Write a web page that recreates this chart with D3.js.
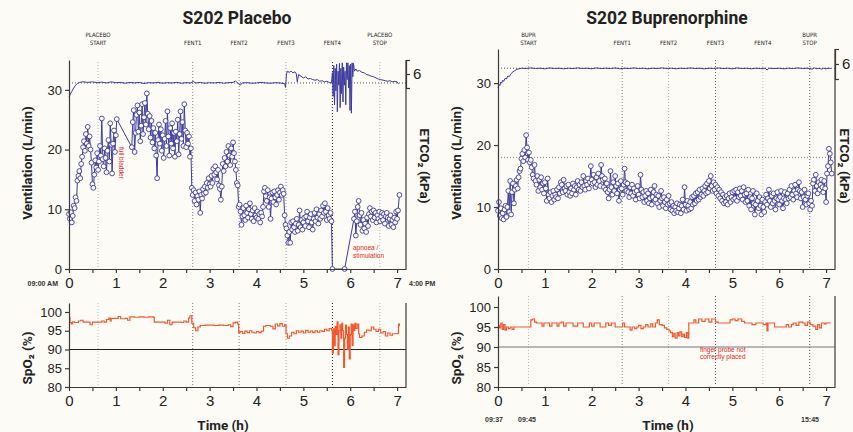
<!DOCTYPE html>
<html>
<head>
<meta charset="utf-8">
<script src="https://cdn.jsdelivr.net/npm/d3@7"></script>
<style>
body { margin: 0; background: #fcfbf5; }
svg { font-family: "Liberation Sans Narrow", Roboto, "Noto Sans", sans-serif; }
.axis path, .axis line { stroke: #3a3a3a; stroke-width: 1.2; }
.axis text { fill: #222; }
.title { font-family: Roboto, sans-serif; font-weight: bold; font-size: 17.5px; fill: #222; }
.lab { font-family: Roboto, sans-serif; font-weight: bold; font-size: 13.5px; fill: #222; }
.ev { font-family: "DejaVu Sans Condensed", "Liberation Sans Narrow", sans-serif; font-size: 6px; fill: #222; }
.note { font-family: "Liberation Sans Narrow", sans-serif; font-size: 6.5px; fill: #e0281e; }
.clock { font-family: "Liberation Sans Narrow", sans-serif; font-weight: bold; font-size: 7px; fill: #333; }
</style>
</head>
<body>
<script>
// ---- data (hours since start) ----
var hourTicks = [0, 1, 2, 3, 4, 5, 6, 7];
var ventTicks = [0, 10, 20, 30];
var spo2Ticks = [80, 85, 90, 95, 100];
var etco2Ticks = [5.5, 6, 6.5];

// placebo session
var eventsP = [0.62, 2.64, 3.63, 4.63, 5.62, 6.63];
var eventNamesP = [["PLACEBO", "START"], ["FENT1"], ["FENT2"], ["FENT3"], ["FENT4"], ["PLACEBO", "STOP"]];

var ventP = [
[0.00,9.2],[0.02,8.4],[0.04,9.5],[0.06,7.8],[0.08,8.9],[0.10,10.6],[0.12,10.2],[0.14,12.0],[0.16,11.4],[0.18,14.8],[0.20,15.6],[0.22,16.4],[0.24,15.2],[0.26,17.6],[0.28,18.8],[0.30,20.4],[0.32,21.4],[0.34,19.8],[0.36,22.6],[0.38,21.0],[0.40,23.8],[0.42,20.6],[0.44,22.2],[0.46,20.0],[0.48,17.8],[0.50,14.2],[0.52,13.6],[0.54,15.8],[0.56,18.2],[0.58,17.0],[0.60,19.4],[0.62,16.6],[0.64,18.0],[0.66,20.6],[0.68,19.0],[0.70,25.2],[0.72,18.4],[0.74,17.2],[0.76,20.2],[0.78,18.6],[0.80,16.2],[0.82,19.8],[0.84,21.6],[0.86,18.0],[0.88,24.4],[0.90,20.8],[0.92,16.0],[0.94,21.0],[0.96,23.2],[0.98,19.6],[1.00,22.4],[1.02,25.1],
[1.34,20.4],[1.36,24.6],[1.38,26.6],[1.40,19.6],[1.42,22.8],[1.44,25.8],[1.46,27.4],[1.48,23.0],[1.50,26.2],[1.52,21.4],[1.54,24.0],[1.56,27.6],[1.58,22.6],[1.60,25.4],[1.62,27.8],[1.64,24.2],[1.66,29.4],[1.68,26.0],[1.70,23.4],[1.72,25.6],[1.74,22.0],[1.76,24.8],[1.78,21.2],[1.80,23.6],[1.82,20.2],[1.84,22.8],[1.86,19.0],[1.88,15.2],[1.90,21.6],[1.92,24.2],[1.94,21.0],[1.96,23.4],[1.98,19.8],[2.00,22.4],[2.02,18.6],[2.04,21.8],[2.06,24.8],[2.08,20.6],[2.10,26.4],[2.12,22.2],[2.14,19.0],[2.16,23.6],[2.18,21.0],[2.20,24.4],[2.22,20.2],[2.24,22.8],[2.26,18.8],[2.28,23.0],[2.30,21.4],[2.32,25.0],[2.34,19.2],[2.36,22.6],[2.38,26.4],[2.40,21.8],[2.42,24.6],[2.44,20.6],[2.46,27.6],[2.48,23.2],[2.50,20.4],[2.52,22.8],[2.54,21.0],[2.56,22.2],[2.58,18.8],[2.60,20.2],
[2.62,13.6],[2.64,12.4],[2.66,13.2],[2.68,11.4],[2.70,12.8],[2.72,10.8],[2.74,12.2],[2.76,11.6],[2.78,13.0],[2.80,9.4],[2.82,12.4],[2.84,11.8],[2.86,13.4],[2.88,12.6],[2.90,13.8],[2.92,12.8],[2.94,14.4],[2.96,13.6],[2.98,15.2],[3.00,14.2],[3.02,13.8],[3.04,15.6],[3.06,14.4],[3.08,16.8],[3.10,15.8],[3.12,17.2],[3.14,16.2],[3.16,15.0],[3.18,16.6],[3.20,14.0],[3.22,13.4],[3.24,11.6],[3.26,13.8],[3.28,17.6],[3.30,16.4],[3.32,18.6],[3.34,17.2],[3.36,19.6],[3.38,18.0],[3.40,20.6],[3.42,19.0],[3.44,17.4],[3.46,20.2],[3.48,18.8],[3.50,21.2],[3.52,19.4],[3.54,18.0],[3.56,16.6],[3.58,14.4],[3.60,14.0],
[3.62,10.4],[3.64,10.8],[3.66,9.6],[3.68,7.4],[3.70,8.8],[3.72,10.2],[3.74,9.0],[3.76,8.2],[3.78,10.6],[3.80,9.4],[3.82,8.6],[3.84,10.0],[3.86,11.0],[3.88,9.2],[3.90,8.4],[3.92,9.8],[3.94,8.0],[3.96,10.2],[3.98,9.0],[4.00,8.6],[4.02,9.6],[4.04,8.4],[4.06,9.2],[4.08,7.8],[4.10,9.4],[4.12,8.8],[4.14,10.4],
[4.16,13.0],[4.18,13.6],[4.20,12.2],[4.22,11.4],[4.24,13.2],[4.26,10.4],[4.28,12.0],[4.30,8.4],[4.32,11.8],[4.34,12.8],[4.36,11.2],[4.38,13.0],[4.40,12.0],[4.42,10.8],[4.44,12.4],[4.46,13.2],[4.48,11.6],[4.50,12.8],[4.52,13.8],[4.54,12.4],[4.56,13.2],[4.58,12.6],[4.60,9.0],
[4.62,7.4],[4.64,6.8],[4.66,5.6],[4.68,4.4],[4.70,6.2],[4.72,4.4],[4.74,7.8],[4.76,6.6],[4.78,8.0],[4.80,7.0],[4.82,6.2],[4.84,7.6],[4.86,8.4],[4.88,6.4],[4.90,7.4],[4.92,9.8],[4.94,7.0],[4.96,8.2],[4.98,6.6],[5.00,7.8],[5.02,8.6],[5.04,7.2],[5.06,8.8],[5.08,9.6],[5.10,8.0],[5.12,7.0],[5.14,8.6],[5.16,9.2],[5.18,7.8],[5.20,6.6],[5.22,8.4],[5.24,9.4],[5.26,8.0],[5.28,10.0],[5.30,8.6],[5.32,7.6],[5.34,9.2],[5.36,8.4],[5.38,9.8],[5.40,8.8],[5.42,10.6],[5.44,9.4],[5.46,11.0],[5.48,9.6],[5.50,8.2],[5.52,10.2],[5.54,9.0],[5.56,8.4],[5.58,9.4],[5.60,8.0],
[5.62,0],[5.88,0],
[6.08,8.4],[6.10,9.6],[6.12,5.6],[6.14,8.0],[6.16,10.4],[6.18,11.4],[6.20,9.0],[6.22,7.4],[6.24,9.4],[6.26,6.4],[6.28,8.2],[6.30,6.8],[6.32,7.6],[6.34,6.2],[6.36,8.6],[6.38,7.2],[6.40,9.2],[6.42,10.2],[6.44,8.8],[6.46,9.6],[6.48,8.2],[6.50,9.8],[6.52,8.6],[6.54,9.4],[6.56,7.8],[6.58,9.0],[6.60,8.4],[6.62,9.6],[6.64,8.0],[6.66,8.8],[6.68,9.4],[6.70,8.2],[6.72,9.2],[6.74,7.6],[6.76,8.8],[6.78,9.4],[6.80,8.6],[6.82,7.2],[6.84,8.4],[6.86,9.0],[6.88,7.4],[6.90,8.2],[6.92,7.0],[6.94,8.6],[6.96,7.8],[6.98,9.6],[7.00,8.4],[7.02,9.8],[7.05,12.4]
];

var etco2P = [
[0,5.18],[0.03,5.28],[0.06,5.38],[0.10,5.5],[0.14,5.6],[0.18,5.66],[0.22,5.7],[0.30,5.72],[0.40,5.7],[0.50,5.72],[0.60,5.69],[0.70,5.71],[0.80,5.68],[0.90,5.72],[1.00,5.69],[1.10,5.7],[1.20,5.67],[1.30,5.7],[1.40,5.68],[1.50,5.7],[1.60,5.66],[1.70,5.69],[1.80,5.68],[1.90,5.7],[2.00,5.67],[2.10,5.69],[2.20,5.68],[2.30,5.7],[2.40,5.67],[2.50,5.69],[2.60,5.68],[2.65,5.74],[2.70,5.68],[2.80,5.7],[2.90,5.67],[3.00,5.69],[3.10,5.68],[3.20,5.7],[3.30,5.67],[3.40,5.69],[3.50,5.7],[3.55,5.75],[3.60,5.68],[3.65,5.6],[3.70,5.68],[3.80,5.69],[3.90,5.67],[4.00,5.68],[4.10,5.7],[4.20,5.68],[4.30,5.67],[4.40,5.69],[4.50,5.68],[4.60,5.66],[4.62,5.52],[4.64,6.0],[4.66,6.1],[4.70,6.06],[4.74,6.1],[4.78,6.04],[4.82,6.08],[4.85,6.0],[4.87,5.72],[4.90,5.98],[4.95,5.92],[5.00,5.86],[5.05,5.9],[5.10,5.82],[5.15,5.84],[5.20,5.8],[5.25,5.78],[5.30,5.8],[5.35,5.74],[5.40,5.76],[5.45,5.72],[5.50,5.74],[5.55,5.7],[5.60,5.68],
[5.62,6.05],[5.635,5.2],[5.65,6.3],[5.665,4.9],[5.68,6.2],[5.695,5.4],[5.71,6.35],[5.725,4.65],[5.74,6.1],[5.755,5.6],[5.77,6.38],[5.785,4.8],[5.80,6.2],[5.815,5.3],[5.83,6.4],[5.845,5.0],[5.86,6.25],[5.875,5.6],[5.89,6.1],[5.905,4.9],[5.92,6.4],[5.935,5.8],[5.95,6.4],[5.965,5.5],[5.98,6.3],[5.995,4.7],[6.01,6.35],[6.025,4.6],[6.04,6.4],[6.055,5.9],[6.07,6.38],[6.09,6.1],[6.12,6.18],[6.15,6.1],[6.20,6.12],[6.25,6.06],[6.30,6.04],[6.35,5.98],[6.40,5.96],[6.45,5.92],[6.50,5.9],[6.55,5.86],[6.60,5.82],[6.65,5.8],[6.70,5.78],[6.75,5.76],[6.80,5.74],[6.85,5.76],[6.90,5.72],[6.95,5.74],[7.00,5.72],[7.03,5.64]
];

var spo2P = [
[0,98.6],[0.02,97.2],[0.05,96.8],[0.08,97.4],[0.12,97.2],[0.20,97.6],[0.25,97.8],[0.30,97.3],[0.40,97.3],[0.45,96.6],[0.50,97.3],[0.60,97.3],[0.70,97.6],[0.75,97.3],[0.80,98.0],[0.85,98.4],[0.88,97.6],[0.90,98.3],[1.00,98.3],[1.05,98.8],[1.10,98.2],[1.20,98.3],[1.25,97.8],[1.30,98.7],[1.40,98.6],[1.50,98.7],[1.60,98.6],[1.70,98.7],[1.80,98.6],[1.82,97.3],[1.90,97.3],[2.00,97.3],[2.05,97.0],[2.10,97.8],[2.15,96.6],[2.20,97.3],[2.30,97.3],[2.40,97.2],[2.45,97.6],[2.50,97.3],[2.55,98.4],[2.58,99.0],[2.62,97.0],[2.66,95.8],[2.70,95.0],[2.75,96.0],[2.80,96.4],[2.90,96.5],[3.00,96.5],[3.10,96.4],[3.20,96.5],[3.30,96.4],[3.40,96.6],[3.45,96.1],[3.50,97.1],[3.55,97.3],[3.60,96.8],[3.62,94.5],[3.65,94.8],[3.70,94.3],[3.75,94.9],[3.80,94.5],[3.85,95.0],[3.90,94.6],[3.95,94.4],[4.00,94.8],[4.05,94.5],[4.10,94.9],[4.15,96.2],[4.20,96.4],[4.30,96.2],[4.35,95.5],[4.40,96.8],[4.45,96.3],[4.50,96.9],[4.55,96.2],[4.60,96.6],[4.63,94.2],[4.66,93.0],[4.70,93.6],[4.75,94.6],[4.80,94.2],[4.85,95.0],[4.90,94.6],[4.95,94.9],[5.00,94.4],[5.05,95.1],[5.10,94.6],[5.15,94.9],[5.20,94.5],[5.25,95.0],[5.30,94.6],[5.35,95.0],[5.40,94.8],[5.45,95.4],[5.50,95.0],[5.55,95.6],[5.60,95.2],
[5.62,89.0],[5.64,95.5],[5.66,91.0],[5.68,96.2],[5.70,94.0],[5.72,97.4],[5.74,88.6],[5.76,95.0],[5.78,96.6],[5.80,93.0],[5.82,97.0],[5.84,95.0],[5.86,85.2],[5.88,93.0],[5.90,96.5],[5.92,94.0],[5.94,90.0],[5.96,96.0],[5.98,87.5],[6.00,94.0],[6.02,96.8],[6.04,91.0],[6.06,96.6],[6.08,95.0],[6.10,97.0],[6.12,95.6],[6.15,96.8],[6.18,94.2],[6.20,93.2],[6.25,93.6],[6.30,94.6],[6.35,95.2],[6.40,95.0],[6.45,96.0],[6.50,95.4],[6.55,94.8],[6.60,95.4],[6.65,94.4],[6.70,94.8],[6.75,93.6],[6.80,94.4],[6.85,93.8],[6.90,94.2],[6.95,94.2],[7.00,94.2],[7.03,96.8],[7.05,96.2]
];

// buprenorphine session
var eventsB = [0.65, 2.65, 3.64, 4.64, 5.65, 6.65];
var eventNamesB = [["BUPR", "START"], ["FENT1"], ["FENT2"], ["FENT3"], ["FENT4"], ["BUPR", "STOP"]];

var ventB = [
[0.00,9.4],[0.02,10.8],[0.04,8.6],[0.06,9.8],[0.08,8.2],[0.10,9.0],[0.12,8.0],[0.14,9.6],[0.16,10.2],[0.18,8.4],[0.20,10.0],[0.22,12.6],[0.24,9.2],[0.26,14.2],[0.28,8.8],[0.30,12.4],[0.32,13.8],[0.34,10.6],[0.36,12.8],[0.38,13.4],[0.40,14.4],[0.42,13.0],[0.44,14.8],[0.46,15.8],[0.48,16.2],[0.50,17.8],[0.52,18.6],[0.54,17.4],[0.56,19.2],[0.58,18.0],[0.60,21.6],[0.62,19.6],[0.64,17.6],[0.66,18.8],[0.68,17.2],[0.70,17.6],[0.72,16.4],[0.74,15.2],[0.76,14.6],[0.78,16.8],[0.80,14.2],[0.82,13.6],[0.84,15.0],[0.86,12.6],[0.88,14.4],[0.90,13.2],[0.92,14.8],[0.94,12.8],[0.96,13.8],[0.98,12.2],[1.00,14.0],[1.02,13.0],[1.04,11.0],[1.06,14.6],[1.08,12.0],[1.10,11.4],[1.12,12.4],[1.14,10.8],[1.16,11.8],[1.18,12.6],[1.20,11.2],[1.22,12.0],[1.24,11.6],[1.26,12.8],[1.28,11.4],[1.30,13.2],[1.32,12.2],[1.34,14.0],[1.36,13.6],[1.38,12.4],[1.40,14.4],[1.42,13.0],[1.44,12.6],[1.46,13.4],[1.48,12.0],[1.50,13.6],[1.52,12.4],[1.54,11.8],[1.56,13.0],[1.58,12.2],[1.60,13.8],[1.62,12.8],[1.64,13.4],[1.66,12.0],[1.68,13.2],[1.70,14.2],[1.72,12.8],[1.74,13.6],[1.76,12.6],[1.78,14.0],[1.80,13.2],[1.82,15.0],[1.84,13.4],[1.86,12.8],[1.88,14.2],[1.90,13.6],[1.92,14.6],[1.94,13.0],[1.96,14.0],[1.98,16.6],[2.00,14.4],[2.02,13.8],[2.04,15.2],[2.06,14.0],[2.08,13.2],[2.10,14.8],[2.12,13.6],[2.14,15.4],[2.16,14.2],[2.18,13.4],[2.20,16.8],[2.22,15.0],[2.24,14.4],[2.26,13.2],[2.28,14.6],[2.30,12.8],[2.32,13.8],[2.34,12.4],[2.36,11.4],[2.38,12.8],[2.40,15.8],[2.42,13.2],[2.44,12.0],[2.46,14.0],[2.48,12.6],[2.50,15.0],[2.52,13.4],[2.54,12.2],[2.56,13.8],[2.58,11.0],[2.60,12.8],[2.62,14.2],[2.64,13.0],[2.66,12.0],[2.68,13.6],[2.70,16.2],[2.72,14.0],[2.74,12.6],[2.76,13.8],[2.78,12.4],[2.80,11.6],[2.82,13.2],[2.84,12.2],[2.86,13.6],[2.88,11.8],[2.90,13.0],[2.92,12.4],[2.94,11.2],[2.96,12.6],[2.98,13.4],[3.00,12.0],[3.02,11.4],[3.04,15.2],[3.06,12.8],[3.08,11.6],[3.10,12.4],[3.12,10.8],[3.14,11.8],[3.16,12.6],[3.18,11.0],[3.20,12.2],[3.22,10.6],[3.24,11.4],[3.26,12.8],[3.28,10.4],[3.30,11.6],[3.32,12.4],[3.34,13.4],[3.36,11.2],[3.38,12.0],[3.40,10.6],[3.42,11.8],[3.44,10.0],[3.46,11.0],[3.48,12.6],[3.50,11.4],[3.52,10.2],[3.54,11.6],[3.56,10.8],[3.58,9.8],[3.60,11.2],[3.62,10.4],[3.64,11.8],[3.66,10.6],[3.68,9.6],[3.70,10.8],[3.72,9.4],[3.74,10.2],[3.76,9.0],[3.78,10.0],[3.80,9.4],[3.82,10.6],[3.84,9.2],[3.86,9.8],[3.88,10.4],[3.90,9.0],[3.92,10.2],[3.94,11.2],[3.96,9.6],[3.98,13.2],[4.00,10.4],[4.02,9.4],[4.04,11.0],[4.06,10.2],[4.08,9.6],[4.10,10.8],[4.12,9.8],[4.14,11.6],[4.16,10.4],[4.18,11.8],[4.20,10.6],[4.22,12.2],[4.24,11.0],[4.26,12.4],[4.28,11.2],[4.30,12.8],[4.32,11.6],[4.34,12.0],[4.36,13.0],[4.38,11.8],[4.40,12.6],[4.42,13.4],[4.44,12.2],[4.46,13.8],[4.48,12.4],[4.50,14.2],[4.52,13.0],[4.54,15.0],[4.56,13.4],[4.58,12.6],[4.60,14.0],[4.62,12.8],[4.64,13.6],[4.66,12.2],[4.68,13.2],[4.70,11.8],[4.72,12.8],[4.74,11.4],[4.76,12.4],[4.78,11.0],[4.80,12.0],[4.82,10.6],[4.84,11.6],[4.86,10.8],[4.88,11.8],[4.90,10.4],[4.92,11.4],[4.94,12.2],[4.96,10.8],[4.98,11.6],[5.00,12.4],[5.02,11.2],[5.04,12.6],[5.06,11.4],[5.08,12.8],[5.10,11.0],[5.12,12.4],[5.14,11.6],[5.16,13.0],[5.18,11.8],[5.20,12.6],[5.22,11.2],[5.24,13.2],[5.26,12.0],[5.28,10.8],[5.30,12.2],[5.32,11.0],[5.34,12.8],[5.36,10.2],[5.38,11.6],[5.40,9.6],[5.42,11.4],[5.44,12.6],[5.46,10.6],[5.48,8.8],[5.50,10.4],[5.52,12.2],[5.54,11.0],[5.56,9.8],[5.58,11.6],[5.60,10.2],[5.62,8.8],[5.64,11.2],[5.66,10.0],[5.68,9.2],[5.70,10.8],[5.72,12.0],[5.74,10.4],[5.76,11.4],[5.78,12.8],[5.80,11.0],[5.82,10.0],[5.84,11.8],[5.86,10.6],[5.88,12.2],[5.90,11.0],[5.92,9.6],[5.94,11.4],[5.96,12.4],[5.98,11.2],[6.00,10.4],[6.02,11.6],[6.04,12.6],[6.06,11.0],[6.08,9.8],[6.10,11.4],[6.12,12.4],[6.14,11.2],[6.16,10.6],[6.18,12.2],[6.20,11.4],[6.22,12.8],[6.24,11.6],[6.26,13.4],[6.28,12.0],[6.30,11.2],[6.32,12.6],[6.34,13.6],[6.36,12.2],[6.38,11.6],[6.40,12.8],[6.42,14.0],[6.44,12.6],[6.46,11.4],[6.48,12.4],[6.50,10.0],[6.52,11.6],[6.54,12.8],[6.56,11.2],[6.58,10.4],[6.60,11.8],[6.62,12.2],[6.64,10.6],[6.66,9.6],[6.68,11.0],[6.70,10.2],[6.72,13.8],[6.74,14.4],[6.76,12.6],[6.78,15.2],[6.80,13.4],[6.82,12.2],[6.84,14.0],[6.86,12.8],[6.88,13.6],[6.90,14.4],[6.92,13.2],[6.94,12.4],[6.96,14.2],[6.98,13.0],[7.00,10.8],[7.02,15.4],[7.04,16.6],[7.06,19.4],[7.08,18.6],[7.10,17.2],[7.12,15.4]
];

var etco2B = [
[0,5.2],[0.02,5.32],[0.04,5.28],[0.06,5.4],[0.08,5.36],[0.10,5.46],[0.12,5.42],[0.15,5.52],[0.18,5.5],[0.21,5.6],[0.24,5.58],[0.28,5.68],[0.32,5.74],[0.36,5.78],[0.40,5.82],[0.45,5.84],[0.50,5.86],[0.60,5.85],[0.70,5.87],[0.80,5.85],[0.90,5.86],[1.00,5.84],[1.10,5.87],[1.20,5.85],[1.30,5.86],[1.40,5.84],[1.50,5.86],[1.60,5.85],[1.70,5.87],[1.80,5.85],[1.90,5.86],[2.00,5.84],[2.10,5.87],[2.20,5.85],[2.30,5.86],[2.40,5.85],[2.50,5.87],[2.60,5.84],[2.70,5.86],[2.80,5.85],[2.90,5.87],[3.00,5.85],[3.10,5.86],[3.20,5.84],[3.30,5.86],[3.40,5.85],[3.50,5.87],[3.60,5.85],[3.70,5.86],[3.80,5.84],[3.90,5.86],[4.00,5.85],[4.10,5.87],[4.20,5.85],[4.30,5.86],[4.40,5.84],[4.50,5.86],[4.60,5.85],[4.70,5.87],[4.80,5.85],[4.90,5.86],[5.00,5.84],[5.10,5.87],[5.20,5.85],[5.30,5.86],[5.40,5.84],[5.50,5.86],[5.60,5.85],[5.70,5.86],[5.74,5.8],[5.78,5.86],[5.90,5.85],[6.00,5.86],[6.10,5.84],[6.20,5.86],[6.30,5.85],[6.40,5.87],[6.50,5.85],[6.60,5.86],[6.70,5.83],[6.75,5.87],[6.80,5.84],[6.85,5.86],[6.90,5.83],[6.95,5.86],[7.00,5.84],[7.05,5.86],[7.10,5.85]
];

var spo2B = [
[0,95.4],[0.03,94.8],[0.06,96.0],[0.09,94.4],[0.12,95.6],[0.15,94.2],[0.18,95.0],[0.22,94.6],[0.26,95.0],[0.30,94.4],[0.34,95.0],[0.40,95.0],[0.50,95.0],[0.60,95.0],[0.68,95.0],[0.70,96.8],[0.74,97.0],[0.78,96.2],[0.82,96.0],[0.90,96.0],[0.94,95.2],[0.98,96.0],[1.05,96.0],[1.10,95.2],[1.15,96.0],[1.22,96.0],[1.26,95.2],[1.30,96.0],[1.35,96.2],[1.40,95.2],[1.45,96.0],[1.55,96.0],[1.60,95.2],[1.66,95.2],[1.70,96.0],[1.78,96.0],[1.82,95.0],[1.90,95.0],[1.95,96.0],[2.00,95.2],[2.05,96.0],[2.12,96.0],[2.18,95.0],[2.25,95.0],[2.30,96.0],[2.36,95.4],[2.42,96.0],[2.50,95.0],[2.60,95.0],[2.66,96.0],[2.70,95.0],[2.78,95.0],[2.82,94.2],[2.86,95.0],[2.92,94.6],[2.96,95.0],[3.00,95.4],[3.05,94.6],[3.10,95.0],[3.15,95.6],[3.20,95.0],[3.26,95.8],[3.30,95.0],[3.36,96.0],[3.40,96.8],[3.44,95.6],[3.50,95.4],[3.55,94.8],[3.60,94.4],[3.65,94.0],[3.68,93.6],[3.72,92.6],[3.75,93.4],[3.78,92.2],[3.82,93.6],[3.85,92.8],[3.88,93.8],[3.92,92.6],[3.95,93.2],[3.98,92.4],[4.02,93.6],[4.05,92.2],[4.07,96.0],[4.12,96.0],[4.18,96.8],[4.22,96.0],[4.28,97.0],[4.35,96.4],[4.42,97.0],[4.50,96.2],[4.56,97.0],[4.64,96.2],[4.70,96.0],[4.80,96.0],[4.90,96.0],[4.95,96.8],[5.00,97.0],[5.06,96.6],[5.12,97.0],[5.20,96.4],[5.26,96.0],[5.35,96.0],[5.42,95.6],[5.50,96.0],[5.60,96.0],[5.66,95.6],[5.72,96.0],[5.74,94.0],[5.76,96.0],[5.85,96.0],[5.90,95.0],[6.00,95.0],[6.10,95.0],[6.15,95.6],[6.20,95.0],[6.26,95.6],[6.30,96.0],[6.36,95.4],[6.42,96.2],[6.50,96.0],[6.55,95.4],[6.60,96.2],[6.66,95.6],[6.72,95.2],[6.78,94.4],[6.82,95.6],[6.86,94.8],[6.90,96.0],[6.96,95.8],[7.00,96.0],[7.10,96.0]
];

var refEtco2P = 5.68, refEtco2B = 5.86, refVentB = 18, spo2Limit = 90;

// ---- drawing ----
var blue = "#3d3a9e", red = "#f2592e";

var svg = d3.select("body").append("svg")
    .attr("width", 853)
    .attr("height", 432);

function drawPanel(p) {
    var x = d3.scaleLinear().domain([0, 7.19]).range([p.left, p.right]);
    var yV = d3.scaleLinear().domain([0, p.vMax]).range([269, p.top]);
    var yE = d3.scaleLinear().domain([5.5, 6.5]).range([p.eLow, p.top]);
    var yS = d3.scaleLinear().domain([80, p.sMax]).range([387, p.sTop]);
    var halfHours = d3.range(0, 7.01, 0.5);

    svg.append("text").attr("class", "title")
        .attr("x", p.cx).attr("y", 24).attr("text-anchor", "middle").text(p.title);

    // event markers
    p.events.forEach(function(t, i) {
        svg.append("line")
            .attr("x1", x(t)).attr("x2", x(t)).attr("y1", p.evTop).attr("y2", 268)
            .attr("stroke", "#222").attr("stroke-opacity", p.evTopShade[i])
            .attr("stroke-dasharray", "1,2");
        svg.append("line")
            .attr("x1", x(t)).attr("x2", x(t)).attr("y1", p.sTop).attr("y2", 386)
            .attr("stroke", "#222").attr("stroke-opacity", p.evBotShade[i])
            .attr("stroke-dasharray", "1,2");
        var names = p.names[i];
        names.forEach(function(n, j) {
            svg.append("text").attr("class", "ev")
                .attr("x", x(t)).attr("y", 45 - (names.length - 1 - j) * 8)
                .attr("text-anchor", "middle").text(n);
        });
    });

    // reference lines
    svg.append("line")
        .attr("x1", p.left + 3).attr("x2", p.right).attr("y1", yE(p.refE)).attr("y2", yE(p.refE))
        .attr("stroke", "#555").attr("stroke-dasharray", "1,2");
    if (p.refV) {
        svg.append("line")
            .attr("x1", p.left + 3).attr("x2", p.right).attr("y1", yV(p.refV)).attr("y2", yV(p.refV))
            .attr("stroke", "#888").attr("stroke-dasharray", "1,2");
    }
    svg.append("line")
        .attr("x1", p.left).attr("x2", p.right).attr("y1", yS(spo2Limit)).attr("y2", yS(spo2Limit))
        .attr("stroke", p.limitColor).attr("stroke-width", 1.1);

    // ETCO2 trace
    svg.append("path").datum(p.etco2)
        .attr("fill", "none").attr("stroke", blue).attr("stroke-width", 1)
        .attr("d", d3.line().x(function(d) { return x(d[0]); }).y(function(d) { return yE(d[1]); }));

    // ventilation trace with open markers
    svg.append("path").datum(p.vent)
        .attr("fill", "none").attr("stroke", blue).attr("stroke-width", 1)
        .attr("d", d3.line().x(function(d) { return x(d[0]); }).y(function(d) { return yV(d[1]); }));
    svg.append("g").selectAll("circle")
        .data(p.vent).enter().append("circle")
        .attr("cx", function(d) { return x(d[0]); })
        .attr("cy", function(d) { return yV(d[1]); })
        .attr("r", 2.4)
        .attr("fill", "#fff").attr("stroke", blue).attr("stroke-width", 0.9);

    // SpO2 trace
    svg.append("path").datum(p.spo2)
        .attr("fill", "none").attr("stroke", red).attr("stroke-width", 1.2)
        .attr("d", d3.line().curve(d3.curveStepAfter)
            .x(function(d) { return x(d[0]); }).y(function(d) { return yS(d[1]); }));

    // axes, top panel
    var fmtHour = function(d) { return d % 1 ? "" : d; };
    var gx = svg.append("g").attr("class", "axis").attr("transform", "translate(0,269)")
        .call(d3.axisBottom(x).tickValues(halfHours).tickSize(4).tickSizeOuter(0).tickPadding(4).tickFormat(fmtHour));
    gx.selectAll("text").style("font-size", "15px");
    var gy = svg.append("g").attr("class", "axis").attr("transform", "translate(" + p.left + ",0)")
        .call(d3.axisLeft(yV).tickValues(ventTicks).tickSize(4).tickSizeOuter(0).tickPadding(3));
    gy.selectAll("text").style("font-size", "13px");
    svg.append("line").attr("x1", p.right).attr("x2", p.right).attr("y1", p.top).attr("y2", 269)
        .attr("stroke", "#3a3a3a").attr("stroke-width", 1.2);
    var ge = svg.append("g").attr("class", "axis").attr("transform", "translate(" + p.right + ",0)")
        .call(d3.axisRight(yE).tickValues(etco2Ticks).tickSize(4).tickSizeOuter(0).tickPadding(3)
            .tickFormat(function(d) { return d == 6 ? "6" : ""; }));
    ge.selectAll("text").style("font-size", "15px");

    // axes, bottom panel
    var gx2 = svg.append("g").attr("class", "axis").attr("transform", "translate(0,387)")
        .call(d3.axisBottom(x).tickValues(halfHours).tickSize(4).tickSizeOuter(0).tickPadding(4).tickFormat(fmtHour));
    gx2.selectAll("text").style("font-size", "15px");
    var gy2 = svg.append("g").attr("class", "axis").attr("transform", "translate(" + p.left + ",0)")
        .call(d3.axisLeft(yS).tickValues(spo2Ticks).tickSize(4).tickSizeOuter(0).tickPadding(3));
    gy2.selectAll("text").style("font-size", "13px");
    svg.append("line").attr("x1", p.right).attr("x2", p.right).attr("y1", p.sTop).attr("y2", 387)
        .attr("stroke", "#3a3a3a").attr("stroke-width", 1.2);

    // axis titles
    svg.append("text").attr("class", "lab")
        .attr("transform", "translate(" + (p.left - 37) + ",163) rotate(-90)")
        .attr("text-anchor", "middle").text("Ventilation (L/min)");
    svg.append("text").attr("class", "lab")
        .attr("transform", "translate(" + p.etcoX + ",166) rotate(90)")
        .attr("text-anchor", "middle").text("ETCO₂ (kPa)");
    svg.append("text").attr("class", "lab")
        .attr("transform", "translate(" + (p.left - 37) + ",358) rotate(-90)")
        .attr("text-anchor", "middle").text("SpO₂ (%)");
    svg.append("text").attr("class", "lab")
        .attr("x", p.timeX).attr("y", 430).attr("text-anchor", "middle").text("Time (h)");
}

drawPanel({
    title: "S202 Placebo", cx: 237, left: 69, right: 406, top: 60, eLow: 88, vMax: 35,
    sTop: 303, sMax: 102.4, evTop: 62, timeX: 223, etcoX: 420,
    events: eventsP, names: eventNamesP,
    evTopShade: [0.3, 0.55, 0.55, 0.45, 1, 0.3], evBotShade: [0.25, 0.6, 0.6, 0.4, 1, 0.3],
    vent: ventP, etco2: etco2P, spo2: spo2P, refE: refEtco2P, refV: null, limitColor: "#222"
});

drawPanel({
    title: "S202 Buprenorphine", cx: 667, left: 498, right: 835, top: 49, eLow: 79, vMax: 35.5,
    sTop: 296, sMax: 102.75, evTop: 60, timeX: 668, etcoX: 840,
    events: eventsB, names: eventNamesB,
    evTopShade: [0.3, 0.55, 0.35, 0.7, 0.3, 0.7], evBotShade: [0.3, 0.55, 0.3, 0.8, 0.3, 0.8],
    vent: ventB, etco2: etco2B, spo2: spo2B, refE: refEtco2B, refV: refVentB, limitColor: "#777"
});

// clock times and notes
svg.append("text").attr("class", "clock").attr("x", 58).attr("y", 286).attr("text-anchor", "end").text("09:00 AM");
svg.append("text").attr("class", "clock").attr("x", 409).attr("y", 286).text("4:00 PM");
svg.append("text").attr("class", "clock").attr("x", 494).attr("y", 422).attr("text-anchor", "middle").text("09:37");
svg.append("text").attr("class", "clock").attr("x", 527).attr("y", 422).attr("text-anchor", "middle").text("09:45");
svg.append("text").attr("class", "clock").attr("x", 810).attr("y", 422).attr("text-anchor", "middle").text("15:45");

svg.append("text").attr("class", "note").attr("transform", "translate(119,147) rotate(90)").text("full bladder");
svg.append("text").attr("class", "note").attr("x", 353).attr("y", 250).text("apnoea /");
svg.append("text").attr("class", "note").attr("x", 353).attr("y", 258).text("stimulation");
svg.append("text").attr("class", "note").attr("x", 700).attr("y", 352).text("finger probe not");
svg.append("text").attr("class", "note").attr("x", 700).attr("y", 359).text("correctly placed");
</script>
</body>
</html>
